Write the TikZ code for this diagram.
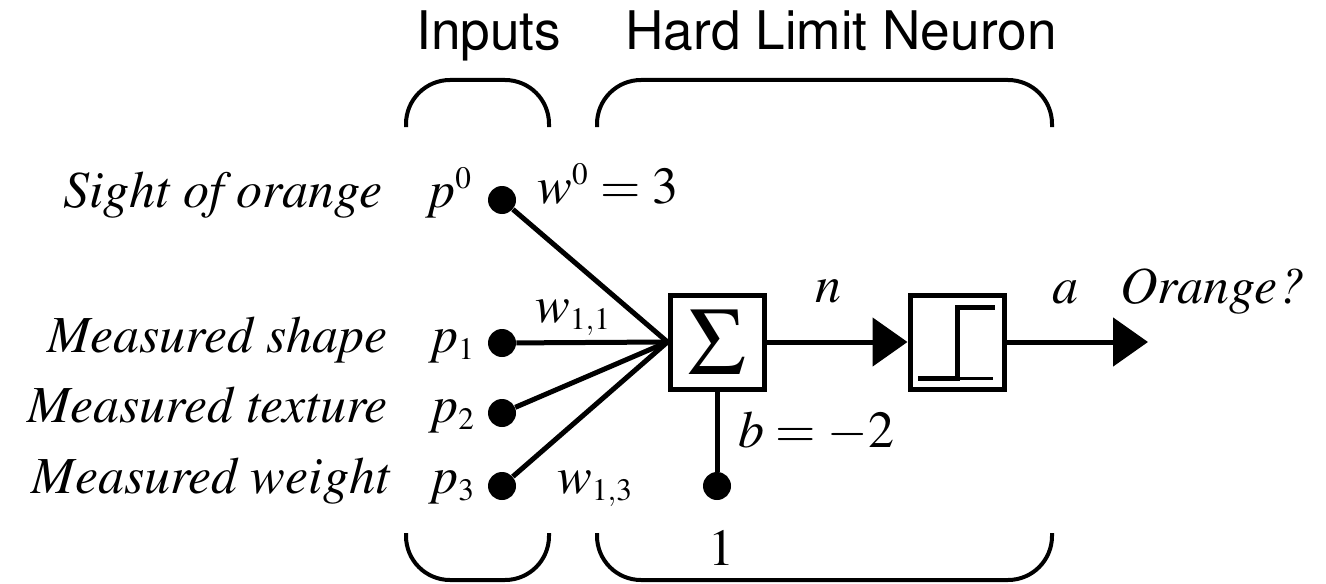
\documentclass[tikz,border=0pt]{standalone}
\usepackage[T1]{fontenc}
\usepackage{mathptmx}
\usepackage{helvet}
\usetikzlibrary{positioning, arrows.meta}

\newcommand{\sml}[1]{{\scriptscriptstyle #1}}

\begin{document}
\begin{tikzpicture}[
  x=0.5pt, y=-0.5pt,
  every node/.style={inner sep=0pt, font=\fontsize{26}{30}\selectfont},
  lbl/.style={font=\fontsize{26}{30}\selectfont\itshape},
  ttl/.style={font=\fontsize{26.6}{30}\selectfont\sffamily},
  dot/.style={circle, fill, minimum size=14pt},
  blk/.style={draw, line width=2.5pt, minimum size=47pt},
  wire/.style={line width=2.5pt},
  arr/.style={wire, -{Triangle[length=17.5pt, width=24pt]}},
  brace/.style={line width=2pt, rounded corners=22pt}
]
\useasboundingbox (0,0) rectangle (1326,583);

\node[ttl, anchor=base west] (tin) at (416,50) {Inputs};
\node[ttl, anchor=base west] (tneu) at (625,50) {Hard Limit Neuron};
\draw[brace] (406,127) -- (406,80) -- (549,80) -- (549,127);
\draw[brace] (597,127) -- (597,80) -- (1052,80) -- (1052,127);
\draw[brace] (406,533) -- (406,580) -- (549,580) -- (549,533);
\draw[brace] (597,533) -- (597,580) -- (1052,580) -- (1052,533);

\node[dot] (p0) at (502,200) {};
\node[dot] (p1) at (502,343) {};
\node[dot] (p2) at (502,413) {};
\node[dot] (p3) at (502,486) {};
\node[blk] (sum) at (717,342) {\fontsize{48}{48}\selectfont$\Sigma$};
\node[blk] (hl) at (957,342) {};
\node[dot] (bdot) at (717,486) {};
\coordinate (out) at (1148,342);

\node[lbl, anchor=base east] (l0) at (383,207) {Sight of orange};
\node[lbl, anchor=base east] (l1) at (388,352) {Measured shape};
\node[lbl, anchor=base east] (l2) at (388,422) {Measured texture};
\node[lbl, anchor=base east] (l3) at (390,493) {Measured weight};
\node[anchor=base west] (n0) at (425,207) {$p^{\sml{0}}$};
\node[anchor=base west] (n1) at (428,352) {$p_{\sml{1}}$};
\node[anchor=base west] (n2) at (428,422) {$p_{\sml{2}}$};
\node[anchor=base west] (n3) at (428,493) {$p_{\sml{3}}$};

\draw[wire] (p0) -- (sum.west);
\draw[wire] (p1) -- (sum.west);
\draw[wire] (p2) -- (sum.west);
\draw[wire] (p3) -- (sum.west);
\draw[wire] (sum.south) -- (bdot);
\draw[arr] (sum) -- (hl);
\draw[arr] (hl) -- (out);

% step inside the hard limit block
\draw[wire] ([shift={(-39,36)}]hl.center) -- ([shift={(0,36)}]hl.center)
  -- ([shift={(0,-35)}]hl.center) -- ([shift={(38,-35)}]hl.center);
\draw[line width=1.5pt] ([shift={(0,36)}]hl.center) -- ([shift={(36,36)}]hl.center);

\node[anchor=base west] (w0) at (537,203) {$w^{\sml{0}} = 3$};
\node[anchor=base west] (w11) at (535,322) {$w_{\sml{1,1}}$};
\node[anchor=base west] (w13) at (557,493) {$w_{\sml{1,3}}$};
\node[anchor=base west] (bl) at (738,447) {$b = -2$};
\node[anchor=base] (one) at (721,565) {$1$};
\node[anchor=base west] (nl) at (815,302) {$n$};
\node[anchor=base west] (al) at (1052,303) {$a$};
\node[lbl, anchor=base west] (ol) at (1120,303) {Orange?};
\end{tikzpicture}
\end{document}
